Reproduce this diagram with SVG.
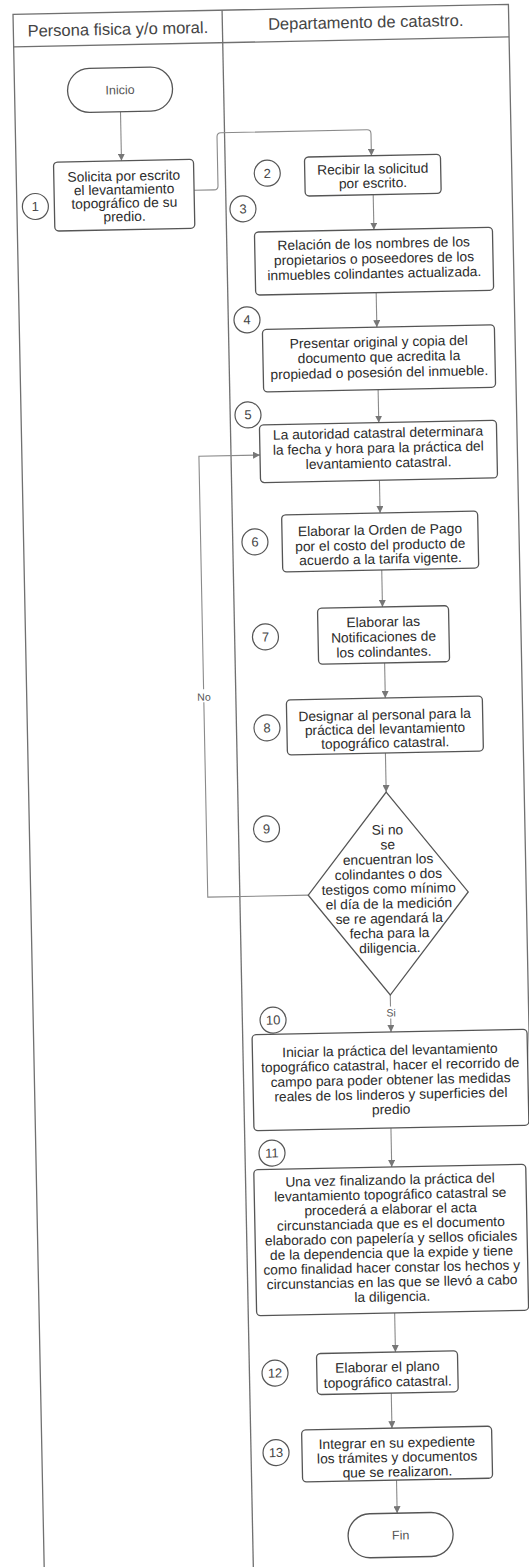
<svg xmlns="http://www.w3.org/2000/svg" width="529" height="1567" viewBox="0 0 529 1567">
  <style>
    .lane { fill: none; stroke: #707070; stroke-width: 1.3; }
    .box { fill: #fff; stroke: #555; stroke-width: 1.3; }
    .term { fill: #fff; stroke: #555; stroke-width: 1.3; }
    .num { fill: #fff; stroke: #555; stroke-width: 1.2; }
    .edge { fill: none; stroke: #8a8a8a; stroke-width: 1.1; }
    .t { font-family: "Liberation Sans", Arial, sans-serif; font-size: 13.8px; fill: #2b2b2b; text-anchor: middle; }
    .hdr { font-size: 16.5px; fill: #444; }
    .tt { font-size: 12.5px; fill: #555; }
    .n { font-size: 13px; fill: #444; }
    .lbl { font-size: 10.5px; fill: #555; }
  </style>
  <defs>
    <marker id="arrow" markerUnits="userSpaceOnUse" markerWidth="8" markerHeight="7" refX="7" refY="3.5" orient="auto">
      <path d="M0,0 L7,3.5 L0,7 z" fill="#777"/>
    </marker>
  </defs>
  <rect width="529" height="1567" fill="#fff"/>
  <g transform="rotate(-1.15 264.5 783.5)">
    <!-- swimlane pool -->
    <g id="pool">
      <path class="lane" d="M28.5,1620 V9.5 H524 V1620"/>
      <line class="lane" x1="237.6" y1="9.5" x2="237.6" y2="1620"/>
      <line class="lane" x1="28.5" y1="42" x2="524" y2="42"/>
      <text class="t hdr" x="133" y="32">Persona fisica y/o moral.</text>
      <text class="t hdr" x="381" y="30">Departamento de catastro.</text>
    </g>

    <!-- connectors -->
    <g id="connectors">
      <line class="edge" x1="134" y1="109" x2="134" y2="158" marker-end="url(#arrow)"/>
      <path class="edge" d="M206,189 H226 Q230,189 230,185 V136 Q230,132 234,132 H380 Q384,132 384,136 V158" marker-end="url(#arrow)"/>
      <line class="edge" x1="385" y1="197" x2="385" y2="232" marker-end="url(#arrow)"/>
      <line class="edge" x1="386" y1="295" x2="386" y2="329.5" marker-end="url(#arrow)"/>
      <line class="edge" x1="386" y1="392" x2="386" y2="425" marker-end="url(#arrow)"/>
      <line class="edge" x1="385.5" y1="482.6" x2="385.5" y2="515.3" marker-end="url(#arrow)"/>
      <line class="edge" x1="386" y1="572.3" x2="386" y2="609.4" marker-end="url(#arrow)"/>
      <line class="edge" x1="387" y1="665.4" x2="387" y2="700.4" marker-end="url(#arrow)"/>
      <line class="edge" x1="386" y1="755.4" x2="386" y2="794.5" marker-end="url(#arrow)"/>
      <line class="edge" x1="386" y1="997.5" x2="386" y2="1034.5" marker-end="url(#arrow)"/>
      <line class="edge" x1="384" y1="1130.5" x2="384" y2="1169.5" marker-end="url(#arrow)"/>
      <line class="edge" x1="384" y1="1315.5" x2="384" y2="1354.5" marker-end="url(#arrow)"/>
      <line class="edge" x1="379" y1="1395.5" x2="379" y2="1430.6" marker-end="url(#arrow)"/>
      <line class="edge" x1="382.5" y1="1482.6" x2="382.5" y2="1515.7" marker-end="url(#arrow)"/>
      <path class="edge" d="M306,896 H205.5 V455 H266.6" marker-end="url(#arrow)"/>
      <rect x="196" y="688" width="20" height="13" fill="#fff"/>
      <text class="t lbl" x="205.7" y="699.5">No</text>
      <rect x="379" y="1009" width="15" height="12" fill="#fff"/>
      <text class="t lbl" x="386.4" y="1019">Si</text>
    </g>

    <!-- start -->
    <g id="inicio">
      <rect class="term" x="81.5" y="65" width="105" height="44" rx="22"/>
      <text class="t tt" x="134" y="91.5">Inicio</text>
    </g>

    <g id="step1">
      <rect class="box" x="66" y="158" width="140" height="69" rx="4"/>
      <text class="t" x="136"><tspan x="136" y="178">Solicita por escrito</tspan><tspan x="136" y="191.5">el levantamiento</tspan><tspan x="136" y="205">topográfico de su</tspan><tspan x="136" y="218.5">predio.</tspan></text>
      <circle class="num" cx="47" cy="202" r="13"/>
      <text class="t n" x="47" y="206.5">1</text>
    </g>

    <g id="step2">
      <rect class="box" x="317" y="158" width="136" height="39" rx="4"/>
      <text class="t" x="385"><tspan x="385" y="176">Recibir la solicitud</tspan><tspan x="385" y="190">por escrito.</tspan></text>
      <circle class="num" cx="279.5" cy="173.4" r="13"/>
      <text class="t n" x="279.5" y="178">2</text>
    </g>

    <g id="step3">
      <rect class="box" x="265.5" y="232" width="238" height="63" rx="4"/>
      <text class="t" x="384.5"><tspan x="384.5" y="250.5">Relación de los nombres de los</tspan><tspan x="384.5" y="265.5">propietarios o poseedores de los</tspan><tspan x="384.5" y="280.5">inmuebles colindantes actualizada.</tspan></text>
      <circle class="num" cx="254.5" cy="208.6" r="13"/>
      <text class="t n" x="254.5" y="213">3</text>
    </g>

    <g id="step4">
      <rect class="box" x="271.5" y="329.5" width="232" height="62.5" rx="4"/>
      <text class="t" x="387.5"><tspan x="387.5" y="349">Presentar original y copia del</tspan><tspan x="387.5" y="364">documento que acredita la</tspan><tspan x="387.5" y="379.5">propiedad o posesión del inmueble.</tspan></text>
      <circle class="num" cx="256.3" cy="319.6" r="13"/>
      <text class="t n" x="256.3" y="324">4</text>
    </g>

    <g id="step5">
      <rect class="box" x="266.6" y="425" width="237" height="57.6" rx="4"/>
      <text class="t" x="385"><tspan x="385" y="440">La autoridad catastral determinara</tspan><tspan x="385" y="455">la fecha y hora para la práctica del</tspan><tspan x="385" y="470">levantamiento catastral.</tspan></text>
      <circle class="num" cx="255.4" cy="414.7" r="13"/>
      <text class="t n" x="255.4" y="419">5</text>
    </g>

    <g id="step6">
      <rect class="box" x="287" y="515.3" width="196" height="57" rx="4"/>
      <text class="t" x="385"><tspan x="385" y="537">Elaborar la Orden de Pago</tspan><tspan x="385" y="552">por el costo del producto de</tspan><tspan x="385" y="566">acuerdo a la tarifa vigente.</tspan></text>
      <circle class="num" cx="259.8" cy="541.8" r="13"/>
      <text class="t n" x="259.8" y="546.3">6</text>
    </g>

    <g id="step7">
      <rect class="box" x="321" y="609.4" width="131" height="56" rx="4"/>
      <text class="t" x="386.5"><tspan x="386.5" y="629">Elaborar las</tspan><tspan x="386.5" y="644">Notificaciones de</tspan><tspan x="386.5" y="659">los colindantes.</tspan></text>
      <circle class="num" cx="268.4" cy="637" r="13"/>
      <text class="t n" x="268.4" y="641.5">7</text>
    </g>

    <g id="step8">
      <rect class="box" x="288" y="700.4" width="196" height="55" rx="4"/>
      <text class="t" x="386"><tspan x="386" y="722">Designar al personal para la</tspan><tspan x="386" y="736">práctica del levantamiento</tspan><tspan x="386" y="750">topográfico catastral.</tspan></text>
      <circle class="num" cx="268.1" cy="728" r="13"/>
      <text class="t n" x="268.1" y="732.5">8</text>
    </g>

    <g id="step9">
      <polygon class="box" points="386,794.5 466,896 386,997.5 306,896"/>
      <text class="t" x="386.5"><tspan x="386.5" y="837">Si no</tspan><tspan x="386.5" y="851.8">se</tspan><tspan x="386.5" y="866.5">encuentran los</tspan><tspan x="386.5" y="881.3">colindantes o dos</tspan><tspan x="386.5" y="896">testigos como mínimo</tspan><tspan x="386.5" y="910.8">el día de la medición</tspan><tspan x="386.5" y="925.5">se re agendará la</tspan><tspan x="386.5" y="940.3">fecha para la</tspan><tspan x="386.5" y="955">diligencia.</tspan></text>
      <circle class="num" cx="265.6" cy="829" r="13"/>
      <text class="t n" x="265.6" y="833.5">9</text>
    </g>

    <g id="step10">
      <rect class="box" x="247" y="1034.5" width="275" height="96" rx="4"/>
      <text class="t" x="384.6"><tspan x="384.6" y="1057.5">Iniciar la práctica del levantamiento</tspan><tspan x="384.6" y="1072.2">topográfico catastral, hacer el recorrido de</tspan><tspan x="384.6" y="1087">campo para poder obtener las medidas</tspan><tspan x="384.6" y="1101.7">reales de los linderos y superficies del</tspan><tspan x="384.6" y="1116.5">predio</tspan></text>
      <circle class="num" cx="268.3" cy="1020.2" r="13"/>
      <text class="t n" x="268.3" y="1024.7">10</text>
    </g>

    <g id="step11">
      <rect class="box" x="246" y="1169.5" width="272" height="146" rx="4"/>
      <text class="t" x="382"><tspan x="382" y="1187">Una vez finalizando la práctica del</tspan><tspan x="382" y="1201.6">levantamiento topográfico catastral se</tspan><tspan x="382" y="1216.2">procederá a elaborar el acta</tspan><tspan x="382" y="1230.8">circunstanciada que es el documento</tspan><tspan x="382" y="1245.4">elaborado con papelería y sellos oficiales</tspan><tspan x="382" y="1260">de la dependencia que la expide y tiene</tspan><tspan x="382" y="1274.6">como finalidad hacer constar los hechos y</tspan><tspan x="382" y="1289.2">circunstancias en las que se llevó a cabo</tspan><tspan x="382" y="1303.8">la diligencia.</tspan></text>
      <circle class="num" cx="264.6" cy="1153.2" r="13"/>
      <text class="t n" x="264.6" y="1157.7">11</text>
    </g>

    <g id="step12">
      <rect class="box" x="305" y="1354.5" width="141" height="41" rx="4"/>
      <text class="t" x="375.7"><tspan x="375.7" y="1374">Elaborar el plano</tspan><tspan x="375.7" y="1389">topográfico catastral.</tspan></text>
      <circle class="num" cx="263.2" cy="1373.2" r="13"/>
      <text class="t n" x="263.2" y="1377.7">12</text>
    </g>

    <g id="step13">
      <rect class="box" x="288.6" y="1430.6" width="190" height="52" rx="4"/>
      <text class="t" x="383.6"><tspan x="383.6" y="1450">Integrar en su expediente</tspan><tspan x="383.6" y="1464.5">los trámites y documentos</tspan><tspan x="383.6" y="1479">que se realizaron.</tspan></text>
      <circle class="num" cx="262.6" cy="1452.7" r="13"/>
      <text class="t n" x="262.6" y="1457.2">13</text>
    </g>

    <!-- end -->
    <g id="fin">
      <rect class="term" x="333" y="1515.7" width="105" height="44" rx="22"/>
      <text class="t tt" x="385.5" y="1542">Fin</text>
    </g>
  </g>
</svg>
